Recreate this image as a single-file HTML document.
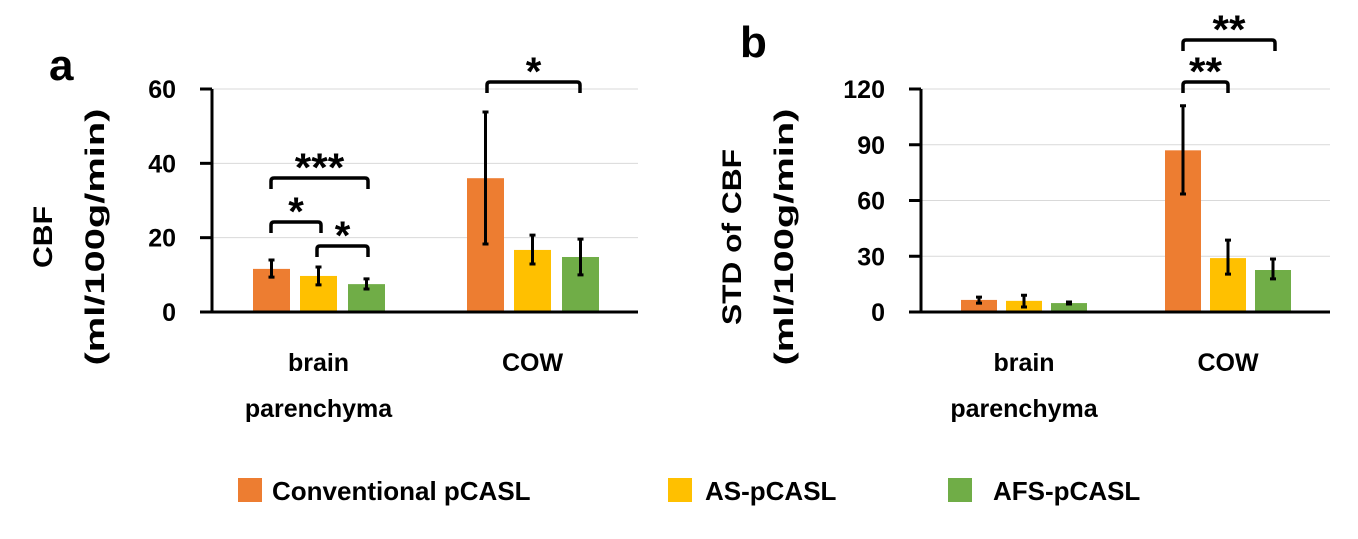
<!DOCTYPE html>
<html><head><meta charset="utf-8"><style>
html,body{margin:0;padding:0;background:#fff;}
svg text{font-family:"Liberation Sans",sans-serif;font-weight:bold;fill:#000;}
</style></head><body>
<svg id="chart" width="1358" height="534" viewBox="0 0 1358 534" xmlns="http://www.w3.org/2000/svg">
<g id="pa"></g>
<g id="pb"></g>
<g id="legend"></g>
</svg>
<script>
const categories = ["brain parenchyma", "COW"];
const seriesNames = ["Conventional pCASL", "AS-pCASL", "AFS-pCASL"];
const colors = ["#ED7D31", "#FFC000", "#70AD47"];
const aTicks = [0, 20, 40, 60];
const aMean = [[11.6, 36.0], [9.7, 16.7], [7.5, 14.8]];
const aHi = [[14.0, 53.8], [12.1, 20.7], [8.9, 19.6]];
const aLo = [[9.4, 18.3], [7.3, 12.9], [6.2, 10.0]];
const bTicks = [0, 30, 60, 90, 120];
const bMean = [[6.5, 87.0], [6.0, 29.0], [4.8, 22.6]];
const bHi = [[8.0, 111.0], [9.0, 38.7], [5.4, 28.5]];
const bLo = [[4.8, 63.5], [2.7, 20.4], [4.3, 17.8]];

const NS = "http://www.w3.org/2000/svg";
function mk(parent, tag, attrs, text) {
  const el = document.createElementNS(NS, tag);
  for (const k in attrs) el.setAttribute(k, attrs[k]);
  if (text !== undefined) el.textContent = text;
  parent.appendChild(el);
  return el;
}

function panel(g, cfg) {
  const {x0, x1, yTop, yBot, max, ticks, mean, hi, lo, barX, barW, letter, letterX, letterY, titleLines, titleX, brackets} = cfg;
  const y = v => yBot - (v / max) * (yBot - yTop);
  ticks.forEach(t => {
    if (t > 0) {
      const gl = mk(g, "line", {x1: x0, x2: x1, y1: y(t), y2: y(t), stroke: "#d9d9d9", "stroke-width": 1});
      
      
    }
    const tk = mk(g, "line", {x1: x0 - 12, x2: x0, y1: y(t), y2: y(t), stroke: "#000", "stroke-width": 3});
    
    
    const tl = mk(g, "text", {x: x0 - 36, y: y(t) + 9, "text-anchor": "end", "font-size": 25}, String(t));
    
    
  });
  seriesNames.forEach((s, si) => {
    categories.forEach((c, ci) => {
      const bx = barX[ci][si];
      const r = mk(g, "rect", {x: bx, y: y(mean[si][ci]), width: barW, height: yBot - y(mean[si][ci]), fill: colors[si]});
      
      
      const cx = bx + barW / 2;
      const e = mk(g, "path", {d: `M${cx},${y(hi[si][ci])}V${y(lo[si][ci])}M${cx-3},${y(hi[si][ci])}H${cx+3}M${cx-3},${y(lo[si][ci])}H${cx+3}`, stroke: "#000", "stroke-width": 3, fill: "none"});
      
      
    });
  });
  const ax = mk(g, "path", {d: `M${x0},${yTop}V${yBot}H${x1}`, stroke: "#000", "stroke-width": 3, fill: "none"});
  
  
  const lt = mk(g, "text", {x: letterX, y: letterY, "font-size": 44}, letter);
  
  
  const tg = mk(g, "g", {transform: `translate(${titleX},237) rotate(-90)`});
  
  
  titleLines.forEach((l, i) => {
    mk(tg, "text", {x: 0, y: i * 52, "text-anchor": "middle", "font-size": 27, textLength: l.len, lengthAdjust: "spacingAndGlyphs"}, l.t);
  });
  const cc = [barX[0][1] + barW / 2, barX[1][1] + barW / 2];
  const c1 = mk(g, "text", {x: cc[0], y: 371, "text-anchor": "middle", "font-size": 25}, "brain");
  
  
  const c2 = mk(g, "text", {x: cc[0], y: 417, "text-anchor": "middle", "font-size": 25}, "parenchyma");
  
  
  const c3 = mk(g, "text", {x: cc[1], y: 371, "text-anchor": "middle", "font-size": 25}, "COW");
  
  
  brackets.forEach(b => {
    const p = mk(g, "path", {d: `M${b.xa},${b.y+11}V${b.y+3}Q${b.xa},${b.y} ${b.xa+3},${b.y}H${b.xb-3}Q${b.xb},${b.y} ${b.xb},${b.y+3}V${b.y+11}`, stroke: "#000", "stroke-width": 3.5, fill: "none"});
    
    
    const attrs = {x: (b.xa + b.xb) / 2, y: b.y + 3, "text-anchor": "middle", "font-size": 40};
    if (b.s.length > 1) { attrs.textLength = b.s.length * 16.5; attrs.lengthAdjust = "spacingAndGlyphs"; }
    const st = mk(g, "text", attrs, b.s);
    
    
  });
}

panel(document.getElementById("pa"), {
  x0: 212, x1: 638, yTop: 89, yBot: 312, max: 60, ticks: aTicks,
  mean: aMean, hi: aHi, lo: aLo, barW: 37,
  barX: [[253, 300, 348], [467, 514, 562]],
  letter: "a", letterX: 49, letterY: 80,
  titleLines: [{t: "CBF", len: 62}, {t: "(ml/100g/min)", len: 257}], titleX: 52,
  brackets: [
    {xa: 271, xb: 368, y: 178, s: "***"},
    {xa: 271, xb: 321, y: 222, s: "*"},
    {xa: 317, xb: 368, y: 246, s: "*"},
    {xa: 487, xb: 580, y: 82, s: "*"}
  ]
});
panel(document.getElementById("pb"), {
  x0: 921, x1: 1330, yTop: 89, yBot: 312, max: 120, ticks: bTicks,
  mean: bMean, hi: bHi, lo: bLo, barW: 36,
  barX: [[961, 1006, 1051], [1165, 1210, 1255]],
  letter: "b", letterX: 740, letterY: 57,
  titleLines: [{t: "STD of CBF", len: 176}, {t: "(ml/100g/min)", len: 257}], titleX: 741,
  brackets: [
    {xa: 1183, xb: 1228, y: 82, s: "**"},
    {xa: 1183, xb: 1275, y: 40, s: "**"}
  ]
});

const lg = document.getElementById("legend");
const lx = [238, 668, 948];
const tx = [272, 705, 993];
seriesNames.forEach((s, i) => {
  const r = mk(lg, "rect", {x: lx[i], y: 478, width: 24, height: 24, fill: colors[i]});
  
  
  const t = mk(lg, "text", {x: tx[i], y: 500, "font-size": 26}, s);
  
  
});
</script>
</body></html>
